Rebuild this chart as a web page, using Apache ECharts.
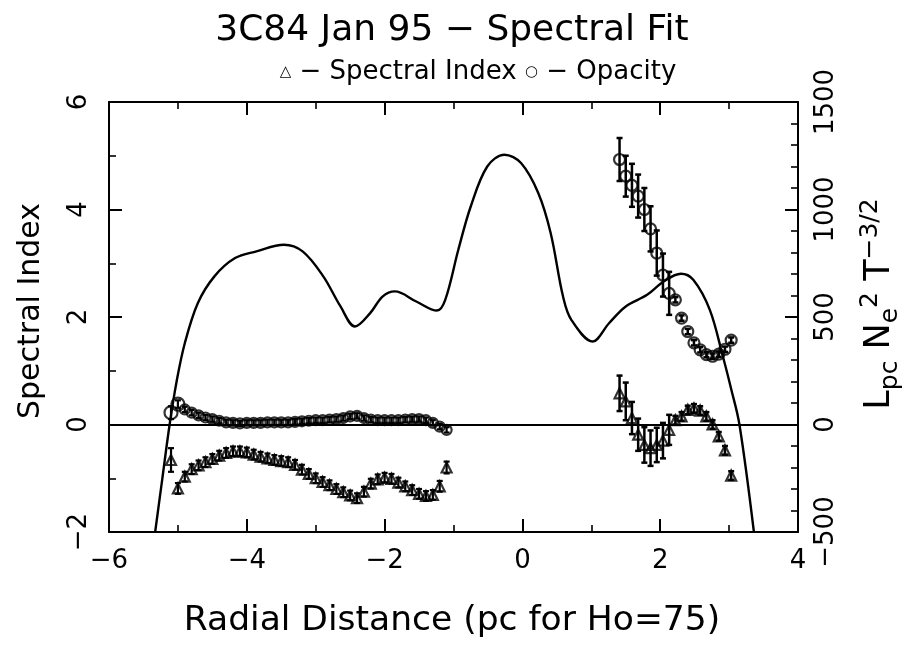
<!DOCTYPE html>
<html><head><meta charset="utf-8">
<script src="https://cdn.jsdelivr.net/npm/echarts@6/dist/echarts.min.js"></script>
<style>html,body{margin:0;padding:0;background:#fff}#c{width:912px;height:656px}</style>
</head><body><div id="c"></div>
<script>
// ---------------- data ----------------
const xTickValues = [-6, -4, -2, 0, 2, 4];
const yLeftTicks = [-2, 0, 2, 4, 6];
const yRightTicks = [-500, 0, 500, 1000, 1500];

// inner jet region (pc)
const leftX = [-5.1,-5.0,-4.9,-4.8,-4.7,-4.6,-4.5,-4.4,-4.3,-4.2,-4.1,-4.0,-3.9,-3.8,-3.7,-3.6,-3.5,-3.4,-3.3,-3.2,-3.1,-3.0,-2.9,-2.8,-2.7,-2.6,-2.5,-2.4,-2.3,-2.2,-2.1,-2.0,-1.9,-1.8,-1.7,-1.6,-1.5,-1.4,-1.3,-1.2,-1.1];
const leftIndex = [-0.66,-1.19,-0.97,-0.83,-0.76,-0.70,-0.64,-0.58,-0.53,-0.50,-0.50,-0.52,-0.56,-0.60,-0.63,-0.66,-0.68,-0.70,-0.75,-0.84,-0.92,-1.00,-1.07,-1.13,-1.20,-1.26,-1.32,-1.37,-1.25,-1.10,-1.02,-0.99,-1.01,-1.08,-1.15,-1.22,-1.29,-1.33,-1.31,-1.15,-0.80];
const leftIndexErr = [0.22,0.10,0.09,0.09,0.09,0.09,0.09,0.09,0.09,0.09,0.09,0.09,0.09,0.09,0.09,0.09,0.09,0.09,0.09,0.09,0.09,0.09,0.09,0.09,0.09,0.09,0.09,0.09,0.09,0.09,0.09,0.09,0.09,0.09,0.09,0.09,0.09,0.09,0.09,0.10,0.11];
const leftOpacity = [0.22,0.38,0.28,0.22,0.17,0.13,0.10,0.07,0.04,0.03,0.02,0.03,0.03,0.03,0.04,0.04,0.04,0.04,0.05,0.06,0.07,0.08,0.08,0.09,0.10,0.12,0.15,0.16,0.12,0.09,0.08,0.08,0.08,0.08,0.09,0.10,0.10,0.08,0.03,-0.04,-0.10];
const leftOpacityErr = [0.12,0.07,0.05,0.05,0.05,0.05,0.05,0.05,0.05,0.05,0.05,0.05,0.05,0.05,0.05,0.05,0.05,0.05,0.05,0.05,0.05,0.05,0.05,0.05,0.05,0.05,0.05,0.05,0.05,0.05,0.05,0.05,0.05,0.05,0.05,0.05,0.05,0.05,0.05,0.05,0.05];

// counter-jet region (pc)
const rightX = [1.41,1.50,1.59,1.68,1.77,1.86,1.95,2.04,2.13,2.22,2.31,2.40,2.49,2.58,2.67,2.76,2.85,2.94,3.03];
const rightIndex = [0.58,0.43,0.12,-0.19,-0.38,-0.44,-0.38,-0.30,-0.10,0.08,0.15,0.27,0.30,0.26,0.15,0.00,-0.22,-0.48,-0.95];
const rightIndexErr = [0.33,0.35,0.30,0.30,0.33,0.33,0.32,0.33,0.28,0.08,0.08,0.08,0.08,0.08,0.08,0.08,0.08,0.08,0.08];
const rightOpacity = [4.93,4.62,4.45,4.25,4.00,3.64,3.19,2.78,2.44,2.32,1.98,1.73,1.52,1.39,1.30,1.27,1.31,1.40,1.57];
const rightOpacityErr = [0.40,0.38,0.40,0.40,0.40,0.42,0.42,0.40,0.40,0.05,0.05,0.05,0.05,0.05,0.05,0.05,0.05,0.05,0.05];

// L_pc Ne^2 T^-3/2 model curve (right axis)
const curveX = [-5.33,-5.225,-5.12,-5.02,-4.90,-4.71,-4.47,-4.17,-3.86,-3.46,-3.19,-2.89,-2.64,-2.43,-2.21,-2.03,-1.85,-1.54,-1.24,-1.12,-0.93,-0.75,-0.51,-0.26,-0.02,0.23,0.41,0.59,0.71,1.02,1.26,1.50,1.81,2.05,2.30,2.48,2.72,2.91,3.03,3.15,3.36];
const curveY = [-500,-249,0,198,378,565,689,774,805,836,805,689,549,456,518,595,619,572,530,580,813,1014,1200,1255,1216,1077,891,595,487,386,472,549,603,665,701,673,533,316,165,0,-500];

// ---------------- chart ----------------
const FONT = '"DejaVu Sans", sans-serif';
const minus = v => String(v).replace('-', '\u2212');
const chart = echarts.init(document.getElementById('c'), null, {renderer: 'canvas'});

function zip(a, b, c) { return a.map((v, i) => c ? [v, b[i], c[i]] : [v, b[i]]); }

function errBars(xs, ys, es, lw) {
  return {
    type: 'custom', xAxisIndex: 0, yAxisIndex: 0, silent: true, z: 3,
    data: zip(xs, ys, es),
    encode: {x: 0, y: 1},
    renderItem: function (params, api) {
      const x = api.value(0), y = api.value(1), e = api.value(2);
      const t = api.coord([x, y + e]), b = api.coord([x, y - e]);
      const w = 3, st = {stroke: '#000', lineWidth: lw};
      return {type: 'group', children: [
        {type: 'line', shape: {x1: t[0], y1: t[1], x2: b[0], y2: b[1]}, style: st},
        {type: 'line', shape: {x1: t[0] - w, y1: t[1], x2: t[0] + w, y2: t[1]}, style: st},
        {type: 'line', shape: {x1: b[0] - w, y1: b[1], x2: b[0] + w, y2: b[1]}, style: st}
      ]};
    }
  };
}
function pts(xs, ys, sym, size) {
  return {
    type: 'scatter', xAxisIndex: 0, yAxisIndex: 0, symbol: sym, symbolSize: size, z: 4,
    data: zip(xs, ys), silent: true,
    itemStyle: {color: 'rgba(255,255,255,0)', borderColor: '#000', borderWidth: 2.2}
  };
}

const axisCommon = {
  axisLine: {onZero: false, lineStyle: {color: '#000', width: 2}},
  axisTick: {inside: true, length: 13, lineStyle: {color: '#000', width: 2}},
  minorTick: {show: true, length: 7, lineStyle: {color: '#000', width: 1.6}},
  splitLine: {show: false},
  axisLabel: {color: '#000', fontSize: 26, fontFamily: FONT, formatter: minus}
};

const option = {
  animation: false,
  backgroundColor: '#fff',
  grid: {left: 109, right: 114, top: 102, bottom: 124, containLabel: false},
  xAxis: [
    Object.assign({}, axisCommon, {type: 'value', position: 'bottom', min: xTickValues[0], max: xTickValues[xTickValues.length - 1], interval: 2,
      minorTick: Object.assign({}, axisCommon.minorTick, {splitNumber: 2}),
      axisLabel: Object.assign({}, axisCommon.axisLabel, {margin: 16})}),
    Object.assign({}, axisCommon, {type: 'value', position: 'top', min: xTickValues[0], max: xTickValues[xTickValues.length - 1], interval: 2,
      minorTick: Object.assign({}, axisCommon.minorTick, {splitNumber: 2}),
      axisLabel: {show: false}})
  ],
  yAxis: [
    Object.assign({}, axisCommon, {type: 'value', position: 'left', min: yLeftTicks[0], max: yLeftTicks[yLeftTicks.length - 1], interval: 2,
      minorTick: Object.assign({}, axisCommon.minorTick, {splitNumber: 2}),
      axisLabel: Object.assign({}, axisCommon.axisLabel, {rotate: 90, margin: 17})}),
    Object.assign({}, axisCommon, {type: 'value', position: 'right', min: yRightTicks[0], max: yRightTicks[yRightTicks.length - 1], interval: 500,
      minorTick: Object.assign({}, axisCommon.minorTick, {splitNumber: 5}),
      axisLabel: Object.assign({}, axisCommon.axisLabel, {rotate: 90, margin: 15})})
  ],
  series: [
    {
      type: 'line', xAxisIndex: 0, yAxisIndex: 1, data: zip(curveX, curveY),
      showSymbol: false, smooth: 0.35, clip: true, silent: true, z: 2,
      lineStyle: {color: '#000', width: 2.4},
      markLine: {silent: true, symbol: 'none', label: {show: false},
        lineStyle: {color: '#000', width: 2, type: 'solid'},
        data: [{yAxis: 0}]}
    },
    errBars(leftX, leftIndex, leftIndexErr, 2.2),
    errBars(leftX, leftOpacity, leftOpacityErr, 2.2),
    errBars(rightX, rightIndex, rightIndexErr, 2.5),
    errBars(rightX, rightOpacity, rightOpacityErr, 2.5),
    pts(leftX, leftIndex, 'triangle', 10),
    pts(leftX, leftOpacity, 'circle', (v, p) => (p.dataIndex < 2 ? 13 : 10)),
    pts(rightX, rightIndex, 'triangle', 10),
    pts(rightX, rightOpacity, 'circle', 11)
  ],
  graphic: [
    {type: 'text', x: 452, y: 31, style: {text: '3C84 Jan 95 \u2212 Spectral Fit', font: '36px "DejaVu Sans"', fill: '#000', textAlign: 'center', textVerticalAlign: 'middle'}},
    {type: 'text', x: 478, y: 72, style: {text: '{s|\u25B3} \u2212 Spectral Index {s|\u25CB} \u2212 Opacity', font: '26px "DejaVu Sans"', fill: '#000', textAlign: 'center', textVerticalAlign: 'middle', rich: {s: {fontSize: 15, fontFamily: 'DejaVu Sans'}}}},
    {type: 'text', x: 452, y: 621, style: {text: 'Radial Distance (pc for Ho=75)', font: '34.5px "DejaVu Sans"', fill: '#000', textAlign: 'center', textVerticalAlign: 'middle'}},
    {type: 'text', x: 31, y: 311, rotation: Math.PI / 2, style: {text: 'Spectral Index', font: '30px "DejaVu Sans"', fill: '#000', textAlign: 'center', textVerticalAlign: 'middle'}},
    {type: 'text', x: 880, y: 304, rotation: Math.PI / 2, style: {
      text: 'L{sub|pc} N{sub|e}{sup|2} T{sup|\u22123/2}', font: '35px "DejaVu Sans"', fill: '#000', textAlign: 'center', textVerticalAlign: 'middle',
      rich: {sub: {fontSize: 25, fontFamily: 'DejaVu Sans', padding: [20, 0, 0, 0]}, sup: {fontSize: 25, fontFamily: 'DejaVu Sans', padding: [0, 0, 20, 0]}}}}
  ]
};
chart.setOption(option);
</script>
</body></html>
